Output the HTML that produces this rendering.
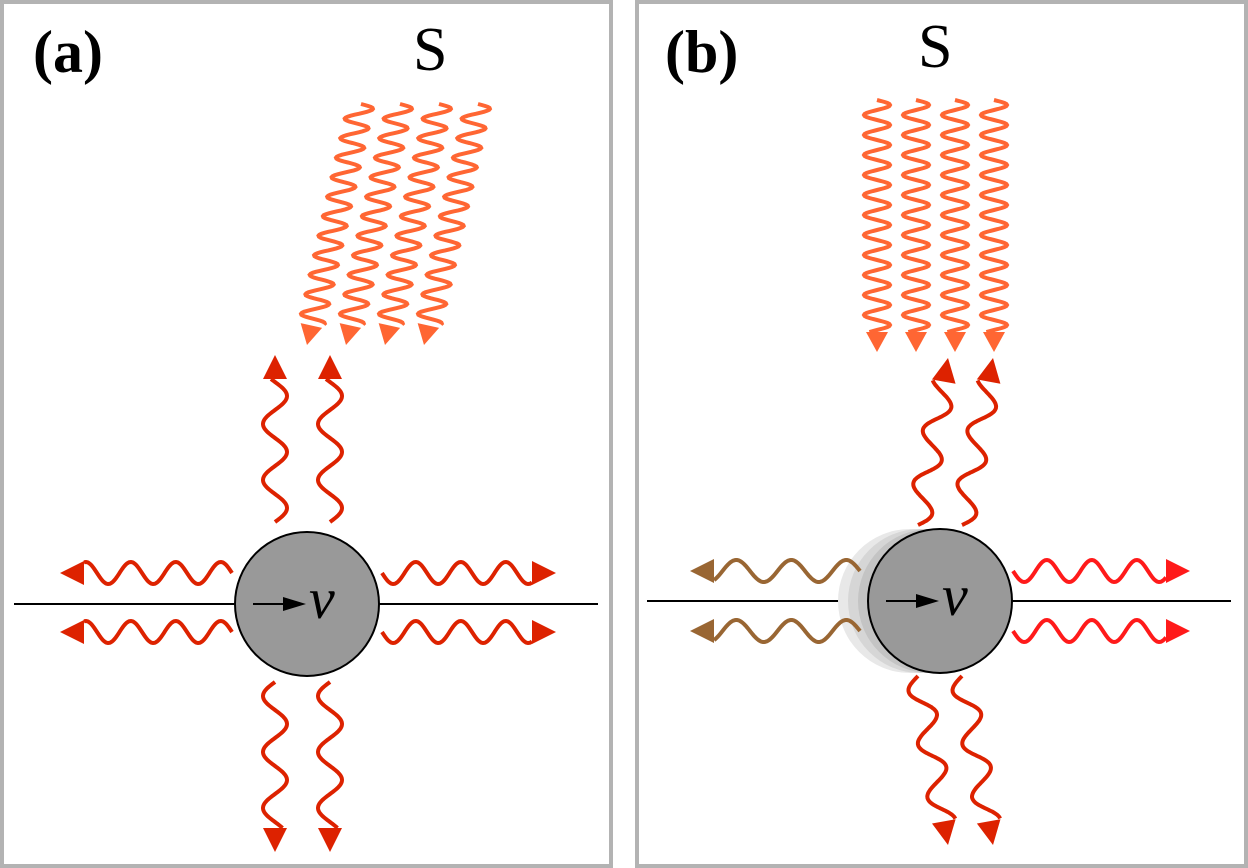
<!DOCTYPE html>
<html><head><meta charset="utf-8"><style>
html,body{margin:0;padding:0;background:#fff;}
svg{display:block;}
text{font-family:"Liberation Serif",serif;}
</style></head><body>
<svg id="s" width="1248" height="868" viewBox="0 0 1248 868" xmlns="http://www.w3.org/2000/svg">
<rect x="2" y="2" width="609" height="864" fill="#fff" stroke="#b3b3b3" stroke-width="4"/>
<rect x="637" y="2" width="609" height="864" fill="#fff" stroke="#b3b3b3" stroke-width="4"/>
<text x="33" y="72" font-size="60" font-weight="bold">(a)</text>
<text x="413" y="70" font-size="62">S</text>
<text x="665" y="72" font-size="60" font-weight="bold">(b)</text>
<text x="918" y="67" font-size="62">S</text>
<line x1="14" y1="604" x2="598" y2="604" stroke="#000" stroke-width="2"/>
<line x1="647" y1="601" x2="1231" y2="601" stroke="#000" stroke-width="2"/>
<circle cx="910" cy="601" r="72" fill="#e8e8e8"/>
<circle cx="920" cy="601" r="72" fill="#d6d6d6"/>
<circle cx="930" cy="601" r="72" fill="#c4c4c4"/>
<g id="w"></g>
<circle cx="307" cy="604" r="72" fill="#999" stroke="#000" stroke-width="2"/>
<circle cx="940" cy="601" r="72" fill="#999" stroke="#000" stroke-width="2"/>
<line x1="253" y1="604" x2="285" y2="604" stroke="#000" stroke-width="2"/>
<polygon points="283,597 306,604 283,611" fill="#000"/>
<text x="309" y="618" font-size="58" font-style="italic">v</text>
<line x1="886" y1="601" x2="918" y2="601" stroke="#000" stroke-width="2"/>
<polygon points="916,594 939,601 916,608" fill="#000"/>
<text x="942" y="615" font-size="58" font-style="italic">v</text>
</svg>
<script>
var g=document.getElementById('w');
function wave(x1,y1,x2,y2,amp,per,col,sw,al,ah,horiz){
 var dx=x2-x1,dy=y2-y1,L=Math.hypot(dx,dy),ux=dx/L,uy=dy/L,px=-uy,py=ux;
 if(horiz){px=1;py=0;}
 var Lw=L-al,d='';
 for(var s=0;s<=Lw;s+=1){var o=amp*Math.sin(2*Math.PI*s/per);
  var x=x1+ux*s+px*o,y=y1+uy*s+py*o;d+=(s?'L':'M')+x.toFixed(1)+','+y.toFixed(1);}
 var p=document.createElementNS('http://www.w3.org/2000/svg','path');
 p.setAttribute('d',d);p.setAttribute('fill','none');p.setAttribute('stroke',col);p.setAttribute('stroke-width',sw);g.appendChild(p);
 var bx=x1+ux*Lw,by=y1+uy*Lw,qx=-uy,qy=ux;
 var t=document.createElementNS('http://www.w3.org/2000/svg','polygon');
 t.setAttribute('points',x2+','+y2+' '+(bx+qx*ah)+','+(by+qy*ah)+' '+(bx-qx*ah)+','+(by-qy*ah));
 t.setAttribute('fill',col);g.appendChild(t);
}
var O='#ff6633',R='#dd2200',B='#996633',R2='#ff1a1a';
for(var i=0;i<4;i++){wave(361+39*i,104,307+39*i,345,13,20,O,4,20,11,1);}
for(var i=0;i<4;i++){wave(877+39*i,100,877+39*i,352,13,20,O,4,20,11,1);}
wave(275,522,275,355,12,56,R,4,24,12);
wave(330,522,330,355,12,56,R,4,24,12);
wave(275,682,275,852,12,56,R,4,24,12);
wave(330,682,330,852,12,56,R,4,24,12);
wave(232,573,60,573,11,45,R,4,24,12);
wave(232,632,60,632,11,45,R,4,24,12);
wave(382,573,556,573,11,45,R,4,24,12);
wave(382,632,556,632,11,45,R,4,24,12);
wave(918,525,948,358,12,54,R,4,24,12);
wave(962,525,993,358,12,54,R,4,24,12);
wave(918,676,948,845,12,54,R,4,24,12);
wave(962,676,993,845,12,54,R,4,24,12);
wave(860,571,690,571,11,55,B,4,24,12);
wave(860,631,690,631,11,55,B,4,24,12);
wave(1013,571,1190,571,11,45,R2,4,24,12);
wave(1013,631,1190,631,11,45,R2,4,24,12);
</script>
</body></html>
